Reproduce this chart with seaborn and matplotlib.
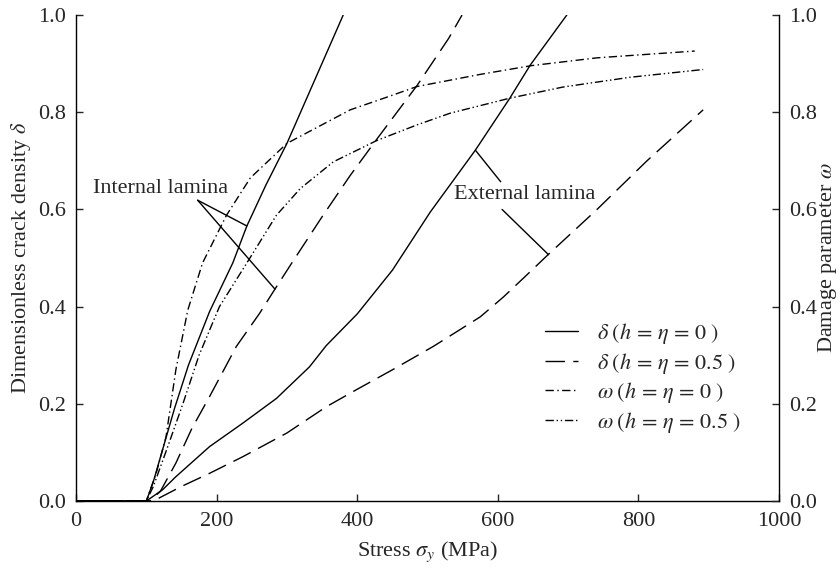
import numpy as np
import matplotlib
matplotlib.use("Agg")
import matplotlib.pyplot as plt
import seaborn as sns

# curve data (stress in MPa)
# internal lamina
stress_d0_int = [0, 100, 110, 120, 140, 160, 190, 223, 243, 270, 300, 340, 380]
delta_d0_int = [0, 0, 0.04, 0.09, 0.19, 0.28, 0.39, 0.49, 0.566, 0.65, 0.736, 0.868, 1.0]

stress_d05_int = [0, 105, 120, 142, 165, 190, 228, 261, 282, 307, 350, 390, 428, 485, 530, 549]
delta_d05_int = [0, 0, 0.02, 0.078, 0.15, 0.215, 0.318, 0.386, 0.434, 0.49, 0.585, 0.67, 0.745, 0.855, 0.952, 1.0]

stress_w0 = [0, 100, 114, 128, 142, 159, 180, 214, 248, 300, 390, 440, 485, 532, 575, 648, 741, 880]
omega_w0 = [0, 0, 0.057, 0.132, 0.27, 0.393, 0.49, 0.588, 0.665, 0.736, 0.805, 0.83, 0.853, 0.866, 0.878, 0.896, 0.912, 0.926]

stress_w05 = [0, 100, 110, 120, 130, 152, 175, 204, 243, 285, 319, 366, 428, 485, 532, 617, 693, 788, 892]
omega_w05 = [0, 0, 0.03, 0.07, 0.11, 0.2, 0.3, 0.4, 0.49, 0.588, 0.643, 0.698, 0.742, 0.774, 0.798, 0.829, 0.852, 0.872, 0.888]

# external lamina
stress_d0_ext = [0, 100, 123, 142, 190, 237, 285, 332, 356, 400, 450, 504, 568, 617, 646, 698]
delta_d0_ext = [0, 0, 0.023, 0.05, 0.112, 0.16, 0.211, 0.276, 0.32, 0.385, 0.475, 0.595, 0.722, 0.829, 0.897, 1.0]

stress_d05_ext = [0, 110, 150, 190, 237, 300, 356, 400, 450, 508, 541, 575, 608, 641, 670, 741, 812, 892]
delta_d05_ext = [0, 0, 0.03, 0.057, 0.091, 0.14, 0.194, 0.23, 0.27, 0.318, 0.348, 0.379, 0.42, 0.465, 0.505, 0.6, 0.7, 0.805]

sns.set_style("ticks")
plt.rcParams["font.family"] = ["Liberation Serif", "DejaVu Serif"]
plt.rcParams["mathtext.fontset"] = "stix"
plt.rcParams["font.size"] = 16

fig = plt.figure(figsize=(8.4, 5.69), dpi=100)
ax = fig.add_axes([0.0905, 0.1195, 0.837, 0.854])

solid = "-"
dashed = (0, (14, 6))
dashdot = (0, (6, 2.5, 1, 2.5))
dashdotdot = (0, (6, 2, 1, 2, 1, 2))
kw = dict(color="black", linewidth=1.0, ax=ax)

sns.lineplot(x=stress_d0_int, y=delta_d0_int, linestyle=solid,
             label=r"$\delta\;(h\,=\,\eta\,=\,0\;)$", **kw)
sns.lineplot(x=stress_d05_int, y=delta_d05_int, linestyle=dashed,
             label=r"$\delta\;(h\,=\,\eta\,=\,0.5\;)$", **kw)
sns.lineplot(x=stress_w0, y=omega_w0, linestyle=dashdot,
             label=r"$\omega\;(h\,=\,\eta\,=\,0\;)$", **kw)
sns.lineplot(x=stress_w05, y=omega_w05, linestyle=dashdotdot,
             label=r"$\omega\;(h\,=\,\eta\,=\,0.5\;)$", **kw)
sns.lineplot(x=stress_d0_ext, y=delta_d0_ext, linestyle=solid, **kw)
sns.lineplot(x=stress_d05_ext, y=delta_d05_ext, linestyle=dashed, **kw)

ticks_y = [0, 0.2, 0.4, 0.6, 0.8, 1.0]
ticklabels_y = ["0.0", "0.2", "0.4", "0.6", "0.8", "1.0"]

ax.set_xlim(0, 1000)
ax.set_ylim(0, 1.0)
ax.set_xticks([0, 200, 400, 600, 800, 1000])
ax.set_yticks(ticks_y)
ax.set_yticklabels(ticklabels_y)
ax.tick_params(axis="y", direction="in", length=5, width=1, labelsize=16, pad=7)
ax.tick_params(axis="x", direction="in", length=5, width=1, labelsize=16, pad=8)
for side in ["left", "bottom"]:
    ax.spines[side].set_linewidth(1.0)
    ax.spines[side].set_color("black")
ax.spines["top"].set_visible(False)
ax.spines["right"].set_visible(False)
ax.set_xlabel(r"Stress $\sigma_y$ (MPa)", fontsize=16, labelpad=6)
ax.set_ylabel(r"Dimensionless crack density $\delta$", fontsize=16, labelpad=4)

ax2 = ax.twinx()
ax2.set_ylim(0, 1.0)
ax2.set_yticks(ticks_y)
ax2.set_yticklabels(ticklabels_y)
ax2.tick_params(direction="in", length=5, width=1, labelsize=16, pad=7)
ax2.spines["top"].set_visible(False)
ax2.spines["left"].set_visible(False)
ax2.spines["bottom"].set_visible(False)
ax2.spines["right"].set_linewidth(1.0)
ax2.spines["right"].set_color("black")
ax2.set_ylabel(r"Damage parameter $\omega$", fontsize=16, rotation=90)
ax2.yaxis.set_label_coords(1.052, 0.5)

# annotations
ax.text(120, 0.644, "Internal lamina", ha="center", va="center", fontsize=16)
for pt in [(243, 0.566), (283, 0.436)]:
    ax.annotate("", xy=pt, xytext=(173, 0.619),
                arrowprops=dict(arrowstyle="-", color="black", lw=1.0, shrinkA=0, shrinkB=0))
ax.text(638, 0.63, "External lamina", ha="center", va="center", fontsize=16)
ax.annotate("", xy=(568, 0.722), xytext=(604, 0.657),
            arrowprops=dict(arrowstyle="-", color="black", lw=1.0, shrinkA=0, shrinkB=0))
ax.annotate("", xy=(672, 0.507), xytext=(606, 0.6),
            arrowprops=dict(arrowstyle="-", color="black", lw=1.0, shrinkA=0, shrinkB=0))

ax.legend(loc="upper left", bbox_to_anchor=(0.667, 0.37), frameon=False,
          handlelength=1.5, handletextpad=0.85, labelspacing=0.2, borderpad=0,
          borderaxespad=0, fontsize=16)

fig.savefig("out.png", dpi=100)
